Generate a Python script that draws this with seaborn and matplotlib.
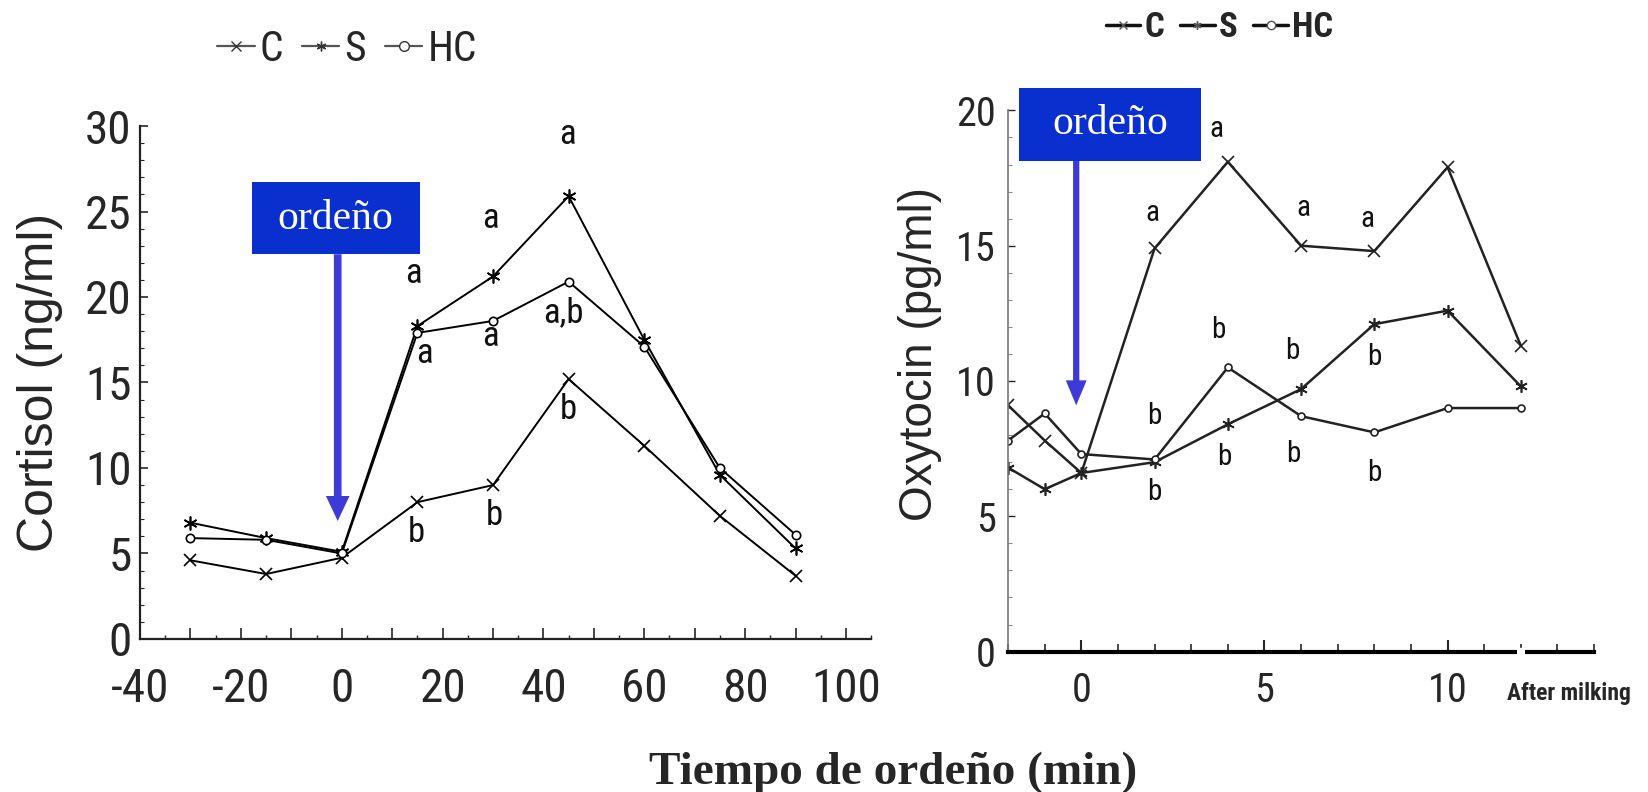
import numpy as np
import pandas as pd
import matplotlib
matplotlib.use("Agg")
import matplotlib.pyplot as plt
import seaborn as sns
from matplotlib.patches import Rectangle
from matplotlib.lines import Line2D
from matplotlib.ticker import MultipleLocator, FuncFormatter
from matplotlib import font_manager

# ---------------- data ----------------
series_names = ["C", "S", "HC"]

cort_time = [-30, -15, 0, 15, 30, 45, 60, 75, 90]
cort_C = [4.6, 3.8, 4.75, 8.0, 9.0, 15.2, 11.3, 7.2, 3.7]
cort_S = [6.8, 5.9, 5.1, 18.3, 21.2, 25.9, 17.5, 9.6, 5.3]
cort_HC = [5.9, 5.8, 5.0, 17.9, 18.6, 20.9, 17.1, 10.0, 6.1]

oxy_time = [-2, -1, 0, 2, 4, 6, 8, 10, 12]
oxy_C = [9.1, 7.8, 6.6, 14.9, 18.1, 15.0, 14.8, 17.9, 11.3]
oxy_S = [6.8, 6.0, 6.6, 7.0, 8.4, 9.7, 12.1, 12.6, 9.8]
oxy_HC = [7.8, 8.8, 7.3, 7.1, 10.5, 8.7, 8.1, 9.0, 9.0]

cort_letters = ["a", "a", "a", "a,b", "a", "a", "b", "b", "b"]
cort_letter_x = [44.8, 29.5, 14.3, 44.0, 29.4, 16.4, 44.9, 14.8, 30.3]
cort_letter_y = [29.5, 24.6, 21.4, 19.1, 17.7, 16.7, 13.4, 6.2, 7.2]

oxy_letters = ["a", "a", "a", "a", "b", "b", "b", "b", "b", "b", "b", "b"]
oxy_letter_x = [3.7, 1.95, 6.05, 7.8, 3.75, 5.75, 8.0, 1.98, 3.9, 5.8, 1.98, 8.0]
oxy_letter_y = [19.3, 16.2, 16.4, 16.0, 11.9, 11.1, 10.9, 8.7, 7.2, 7.3, 5.9, 6.6]

oxy_ticks = [0, 5, 10]
after_label = "After milking"
box_text = "ordeño"
xlabel_text = "Tiempo de ordeño (min)"

# ---------------- style ----------------
sns.set_style("ticks")
entries = font_manager.fontManager.ttflist
names = {f.name for f in entries}
stretch = "normal"
if "Liberation Sans Narrow" in names:
    sans = "Liberation Sans Narrow"
else:
    sans = "Liberation Sans"
    for cand in ["Roboto Condensed", "Open Sans Condensed", "Noto Sans Condensed", "DejaVu Sans Condensed"]:
        if cand in names:
            sans = cand
            break
    else:
        for cand in ["Noto Sans", "Open Sans", "Roboto", "DejaVu Sans"]:
            if any(f.name == cand and str(f.stretch) in ("condensed", "semi-condensed", "extra-condensed") for f in entries):
                sans = cand
                stretch = "condensed"
                break
plt.rcParams["font.family"] = [sans, "DejaVu Sans"]
plt.rcParams["font.stretch"] = stretch

W, H = 1648, 792
fig = plt.figure(figsize=(W / 100, H / 100), dpi=100)

markers = {"C": "x", "S": (6, 2, 0), "HC": "o"}
mfc = {"C": "black", "S": "black", "HC": "white"}
msize = {"C": 9, "S": 10, "HC": 6}

box_color = "#0a2fcf"
arrow_color = "#3d3ad8"

# ---------------- left: cortisol ----------------
axL = fig.add_axes([0.0850, 0.1932, 0.4436, 0.6477])
dfL = pd.DataFrame({"t": cort_time * 3,
                    "v": cort_C + cort_S + cort_HC,
                    "g": sum([[n] * len(cort_time) for n in series_names], [])})
for name in series_names:
    d = dfL[dfL.g == name]
    sns.lineplot(data=d, x="t", y="v", ax=axL, color="black", lw=1.4,
                 marker=markers[name], markersize=msize[name],
                 markeredgecolor="black", markerfacecolor=mfc[name],
                 markeredgewidth=1.2, label=name, legend=False)
axL.set_xlim(-40, 105)
axL.set_ylim(0, 30)
axL.set_xlabel("")
axL.set_ylabel("Cortisol (ng/ml)", fontsize=36, family=["Liberation Sans", "DejaVu Sans"],
               fontstretch="normal")
axL.yaxis.set_label_coords(-0.105, 0.5)
axL.xaxis.set_major_locator(MultipleLocator(10))
axL.xaxis.set_minor_locator(MultipleLocator(5))
axL.xaxis.set_major_formatter(FuncFormatter(lambda v, p: f"{int(v)}" if int(round(v)) % 20 == 0 else ""))
axL.yaxis.set_major_locator(MultipleLocator(5))
axL.yaxis.set_minor_locator(MultipleLocator(1))
axL.tick_params(axis="x", which="major", direction="in", length=8, width=1.2, pad=20, labelsize=34)
axL.tick_params(axis="x", which="minor", direction="in", length=3, width=1)
axL.tick_params(axis="y", which="major", direction="in", length=6, width=1.2, pad=6, labelsize=34)
axL.tick_params(axis="y", which="minor", direction="in", length=3, width=0.8)
for s in ["top", "right"]:
    axL.spines[s].set_visible(False)
for s in ["left", "bottom"]:
    axL.spines[s].set_linewidth(1.6)
    axL.spines[s].set_color("#222222")

for t, x, y in zip(cort_letters, cort_letter_x, cort_letter_y):
    axL.text(x, y, t, ha="center", va="center", fontsize=25, color="#111111")

axL.add_patch(Rectangle((-17.9, 22.5), 33.4, 4.2, facecolor=box_color, edgecolor="none", zorder=4))
axL.text(-1.2, 24.6, box_text, ha="center", va="center", color="white", fontsize=30,
         family=["Liberation Serif", "DejaVu Serif"], fontstretch="normal", zorder=5)
axL.annotate("", xy=(-0.8, 6.9), xytext=(-0.8, 22.5),
             arrowprops=dict(facecolor=arrow_color, edgecolor="none", width=5.5, headwidth=17, headlength=18),
             zorder=3)

handles = [Line2D([], [], color="#555555", lw=1.6, marker=markers[n], markersize=7,
                  markeredgecolor="#333333", markerfacecolor=mfc[n], markeredgewidth=1) for n in series_names]
fig.legend(handles, series_names, loc="center", bbox_to_anchor=(0.2105, 0.938), ncol=3, frameon=False,
           fontsize=30, handlelength=0.9, handletextpad=0.12, columnspacing=0.45)

# ---------------- right: oxytocin ----------------
axR = fig.add_axes([0.6117, 0.1773, 0.3556, 0.6833])
dfR = pd.DataFrame({"t": oxy_time * 3,
                    "v": oxy_C + oxy_S + oxy_HC,
                    "g": sum([[n] * len(oxy_time) for n in series_names], [])})
for name in series_names:
    d = dfR[dfR.g == name]
    sns.lineplot(data=d, x="t", y="v", ax=axR, color="#222222", lw=1.8,
                 marker=markers[name], markersize=msize[name] - 1,
                 markeredgecolor="#222222", markerfacecolor=mfc[name],
                 markeredgewidth=1.2, label=name, legend=False)
axR.set_xlim(-2, 14)
axR.set_ylim(0, 20)
axR.set_xlabel("")
axR.set_ylabel("Oxytocin (pg/ml)", fontsize=33, family=["Liberation Sans", "DejaVu Sans"],
               fontstretch="normal")
axR.yaxis.set_label_coords(-0.112, 0.55)
axR.set_xticks(oxy_ticks)
axR.xaxis.set_minor_locator(MultipleLocator(1))
axR.yaxis.set_major_locator(MultipleLocator(5))
axR.yaxis.set_minor_locator(MultipleLocator(1))
axR.tick_params(axis="x", which="major", direction="in", length=9, width=1.5, pad=14, labelsize=29)
axR.tick_params(axis="x", which="minor", direction="in", length=6, width=1.2)
axR.tick_params(axis="y", which="major", direction="in", length=5, width=1, pad=9, labelsize=29)
axR.tick_params(axis="y", which="minor", direction="in", length=3, width=0.8, color="#888888")
for s in ["top", "right"]:
    axR.spines[s].set_visible(False)
axR.spines["left"].set_linewidth(1.2)
axR.spines["left"].set_color("#777777")
axR.spines["bottom"].set_linewidth(3)
axR.spines["bottom"].set_color("black")
axR.plot([11.9, 12.1], [0, 0], color="white", lw=6, clip_on=False, zorder=5, solid_capstyle="butt")
axR.text(13.3, -0.057, after_label, transform=axR.get_xaxis_transform(), ha="center", va="top",
         fontsize=17, fontweight="bold", clip_on=False)

for t, x, y in zip(oxy_letters, oxy_letter_x, oxy_letter_y):
    axR.text(x, y, t, ha="center", va="center", fontsize=21, color="#111111")

axR.add_patch(Rectangle((-1.69, 18.14), 4.96, 2.7, facecolor=box_color, edgecolor="none",
                        zorder=4, clip_on=False))
axR.text(0.79, 19.5, box_text, ha="center", va="center", color="white", fontsize=30,
         family=["Liberation Serif", "DejaVu Serif"], fontstretch="normal", zorder=5)
axR.annotate("", xy=(-0.14, 9.1), xytext=(-0.14, 18.14),
             arrowprops=dict(facecolor=arrow_color, edgecolor="none", width=4.5, headwidth=15, headlength=18),
             zorder=3)

handlesR = [Line2D([], [], color="#111111", lw=2.5, marker=markers[n], markersize=6,
                   markeredgecolor="#555555", markerfacecolor=mfc[n], markeredgewidth=1) for n in series_names]
fig.legend(handlesR, series_names, loc="center", bbox_to_anchor=(0.74, 0.965), ncol=3, frameon=False,
           handlelength=1.0, handletextpad=0.12, columnspacing=0.45,
           prop={"size": 25, "weight": "bold", "family": [sans, "DejaVu Sans"], "stretch": stretch})

fig.text(0.542, 0.024, xlabel_text, ha="center", va="center", fontsize=34, fontweight="bold",
         family=["Liberation Serif", "DejaVu Serif"], fontstretch="normal")

fig.savefig("out.png", dpi=100, facecolor="white")
